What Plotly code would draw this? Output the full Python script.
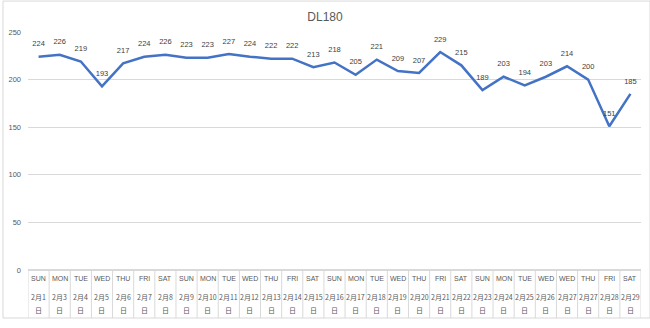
import plotly.graph_objects as go

weekdays = ["SUN","MON","TUE","WED","THU","FRI","SAT","SUN","MON","TUE","WED","THU","FRI","SAT",
            "SUN","MON","TUE","WED","THU","FRI","SAT","SUN","MON","TUE","WED","WED","THU","FRI","SAT"]
dates = ["2月1","2月3","2月4","2月5","2月6","2月7","2月8","2月9","2月10","2月11","2月12","2月13","2月14","2月15",
         "2月16","2月17","2月18","2月19","2月20","2月21","2月22","2月23","2月24","2月25","2月26","2月27","2月27","2月28","2月29"]
values = [224,226,219,193,217,224,226,223,223,227,224,222,222,213,
          218,205,221,209,207,229,215,189,203,194,203,214,200,151,185]
y_ticks = [0,50,100,150,200,250]

n = len(values)
xs = list(range(n))
FONT = "Liberation Sans, Noto Sans CJK JP, sans-serif"
CJK = "Noto Sans CJK JP, sans-serif"
GRID = "#d9d9d9"
TXT = "#595959"

fig = go.Figure()
fig.add_trace(go.Scatter(
    x=xs, y=values, mode="lines+markers+text",
    line=dict(color="#4472C4", width=2.5),
    marker=dict(size=12, color="rgba(0,0,0,0)"),
    text=[str(v) for v in values], textposition="top center",
    textfont=dict(size=7.5, color="#404040", family=FONT),
    cliponaxis=False, hoverinfo="skip"))

shapes = []
ann = []
for i in range(n + 1):
    shapes.append(dict(type="line", xref="x", yref="paper", x0=i - 0.5, x1=i - 0.5,
                       y0=0, y1=-0.2017, line=dict(color=GRID, width=1)))
for i in range(n):
    ann.append(dict(x=i, y=-0.0378, xref="x", yref="paper", text=weekdays[i], showarrow=False,
                    font=dict(size=7, color=TXT, family=FONT), yanchor="middle"))
    ann.append(dict(x=i, y=-0.113, xref="x", yref="paper", text=dates[i], showarrow=False,
                    font=dict(size=7, color=TXT, family=CJK), yanchor="middle"))
    ann.append(dict(x=i, y=-0.168, xref="x", yref="paper", text="日", showarrow=False,
                    font=dict(size=7, color=TXT, family=CJK), yanchor="middle"))
shapes.append(dict(type="rect", xref="paper", yref="paper", x0=-0.0408, x1=1.0147, y0=-0.2017, y1=1.13,
                   line=dict(color=GRID, width=1)))

fig.update_layout(
    width=650, height=328,
    margin=dict(l=28, r=9, t=32, b=58),
    paper_bgcolor="white", plot_bgcolor="white",
    title=dict(text="DL180", x=0.5, xanchor="center", y=0.95, yanchor="middle",
               font=dict(size=12, color=TXT, family=FONT)),
    showlegend=False,
    xaxis=dict(range=[-0.5, n - 0.5], showticklabels=False, showgrid=False, zeroline=False,
               showline=False, ticks=""),
    yaxis=dict(range=[0, 250], tickvals=y_ticks, showgrid=True, gridcolor=GRID, gridwidth=1,
               zeroline=True, zerolinecolor=GRID, showline=False, ticks="",
               tickfont=dict(size=7.5, color=TXT, family=FONT), ticklabelstandoff=6),
    shapes=shapes, annotations=ann,
)
fig.write_html("out.html")
